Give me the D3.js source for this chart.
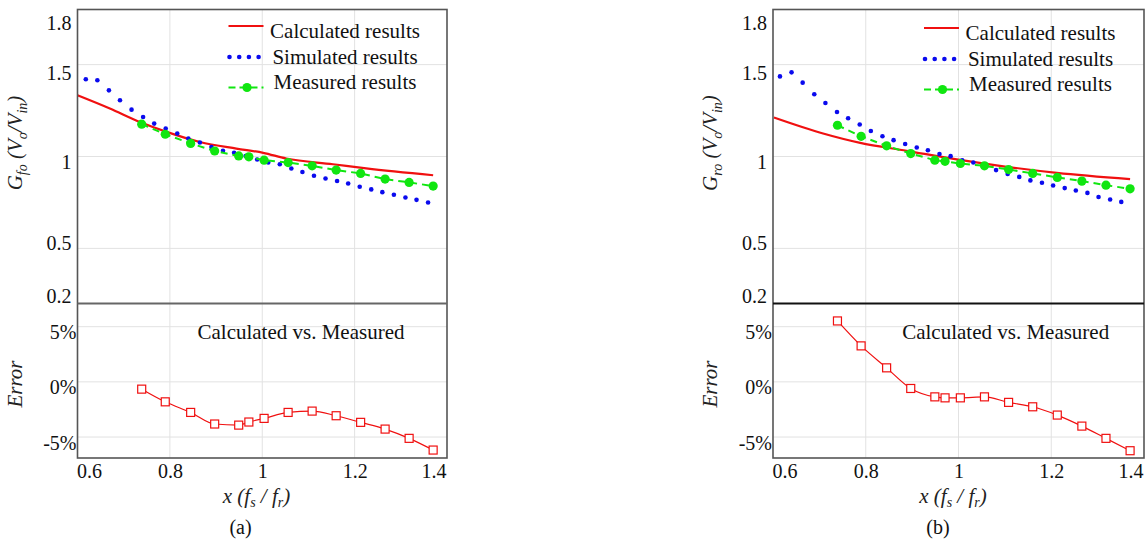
<!DOCTYPE html>
<html>
<head>
<meta charset="utf-8">
<script src="https://cdn.jsdelivr.net/npm/d3@7"></script>
<style>
	body { margin: 0; background: #fff; }
	svg { display: block; font-family: "Liberation Serif", "Times New Roman", serif; }
</style>
</head>
<body>
<svg id="chart" width="1145" height="540"></svg>
<script>
// axis ticks
var xTicks = [0.6, 0.8, 1, 1.2, 1.4];
var gainTicks = [0.2, 0.5, 1, 1.5, 1.8];
var errTicks = [-5, 0, 5];

// measured frequencies (shared by both panels)
var measX = [0.739, 0.790, 0.845, 0.897, 0.949, 0.971, 1.004, 1.056, 1.108, 1.160, 1.213, 1.266, 1.318, 1.370];

// (a) forward gain
var calcXA = [0.600, 0.670, 0.735, 0.793, 0.865, 0.944, 1.002, 1.052, 1.153, 1.225, 1.370];
var calcA = [1.333, 1.261, 1.188, 1.134, 1.079, 1.043, 1.020, 0.989, 0.958, 0.935, 0.898];
var simXA = [0.618, 0.643, 0.668, 0.692, 0.717, 0.742, 0.766, 0.791, 0.816, 0.840, 0.865, 0.890, 0.915, 0.939, 0.964, 0.989,
	1.013, 1.038, 1.063, 1.087, 1.112, 1.137, 1.162, 1.186, 1.211, 1.236, 1.260, 1.285, 1.310, 1.334, 1.359];
var simA = [1.420, 1.415, 1.360, 1.306, 1.255, 1.215, 1.179, 1.152, 1.125, 1.098, 1.076, 1.052, 1.031, 1.020, 1.003, 0.984,
	0.967, 0.958, 0.935, 0.916, 0.895, 0.880, 0.867, 0.853, 0.835, 0.821, 0.806, 0.792, 0.777, 0.764, 0.750];
var measA = [1.176, 1.121, 1.071, 1.030, 1.003, 0.998, 0.980, 0.967, 0.949, 0.926, 0.908, 0.877, 0.859, 0.839];
var errA = [-0.66, -1.81, -2.77, -3.82, -3.92, -3.64, -3.31, -2.77, -2.65, -3.07, -3.67, -4.28, -5.12, -6.18];

// (b) reverse gain
var calcXB = [0.602, 0.708, 0.788, 0.888, 0.996, 1.104, 1.212, 1.370];
var calcB = [1.212, 1.125, 1.074, 1.031, 0.984, 0.944, 0.911, 0.877];
var simXB = [0.615, 0.640, 0.664, 0.689, 0.713, 0.738, 0.762, 0.787, 0.811, 0.836, 0.860, 0.885, 0.910, 0.934, 0.959, 0.983,
	1.008, 1.032, 1.057, 1.081, 1.106, 1.131, 1.155, 1.180, 1.204, 1.229, 1.253, 1.278, 1.302, 1.327, 1.351];
var simB = [1.436, 1.458, 1.402, 1.339, 1.291, 1.242, 1.208, 1.174, 1.139, 1.110, 1.089, 1.068, 1.049, 1.034, 1.014, 1.002,
	0.980, 0.967, 0.949, 0.926, 0.905, 0.889, 0.870, 0.857, 0.842, 0.828, 0.815, 0.802, 0.780, 0.766, 0.753];
var measB = [1.170, 1.110, 1.058, 1.016, 0.980, 0.974, 0.962, 0.949, 0.929, 0.908, 0.886, 0.866, 0.844, 0.824];
var errB = [5.52, 3.26, 1.27, -0.60, -1.36, -1.45, -1.45, -1.36, -1.86, -2.26, -3.01, -4.01, -5.12, -6.24];

var svg = d3.select("#chart");

var top0 = 9.5, mid = 303.5, bot = 458;
var red = "#f01010", blue = "#0a0aee", green = "#10e610";
var serif = "'Liberation Serif', 'Times New Roman', serif";

function zip(xs, ys) {
	return xs.map(function(x, i) { return [x, ys[i]]; });
}

function styleAxis(a) {
	a.attr("font-family", serif).attr("font-size", 20);
	a.selectAll(".tick text").style("font-family", serif).style("font-size", "20px").attr("fill", "#111");
	a.select(".domain").remove();
}

function panel(o) {
	var g = svg.append("g");
	var x = d3.scaleLinear().domain([0.6, 1.4]).range([o.x0, o.x1]);
	var y = d3.scaleLinear().domain([0.2, 1.8]).range([mid, top0]);
	var ye = d3.scaleLinear().domain([-6.9, 7.1]).range([bot, mid]);

	// grid
	g.selectAll("line.vg").data([0.8, 1, 1.2]).enter().append("line")
		.attr("x1", function(d) { return x(d); }).attr("x2", function(d) { return x(d); })
		.attr("y1", top0).attr("y2", bot)
		.attr("stroke", "#e2e2e2").attr("stroke-width", 1);
	g.selectAll("line.hg").data([0.5, 1, 1.5]).enter().append("line")
		.attr("x1", o.x0).attr("x2", o.x1)
		.attr("y1", function(d) { return y(d); }).attr("y2", function(d) { return y(d); })
		.attr("stroke", "#e2e2e2");
	g.selectAll("line.eg").data(errTicks).enter().append("line")
		.attr("x1", o.x0).attr("x2", o.x1)
		.attr("y1", function(d) { return ye(d); }).attr("y2", function(d) { return ye(d); })
		.attr("stroke", "#e2e2e2");

	// axes
	var gainShift = {0.2: -7, 0.5: -5, 1: 6, 1.5: 9, 1.8: 14};
	var ay = g.append("g").attr("transform", "translate(" + o.x0 + ",0)")
		.call(d3.axisLeft(y).tickValues(gainTicks).tickSize(0).tickPadding(6).tickFormat(function(d) { return d; }));
	styleAxis(ay);
	ay.selectAll(".tick text").attr("dy", function(d) { return (gainShift[d] + 6) + "px"; });
	var ae = g.append("g").attr("transform", "translate(" + o.x0 + ",0)")
		.call(d3.axisLeft(ye).tickValues(errTicks).tickSize(0).tickPadding(1).tickFormat(function(d) { return d + "%"; }));
	styleAxis(ae);
	ae.selectAll(".tick text").attr("dy", "12px");
	var ax = g.append("g").attr("transform", "translate(0," + bot + ")")
		.call(d3.axisBottom(x).tickValues(xTicks).tickSize(0).tickPadding(6).tickFormat(function(d) { return d; }));
	styleAxis(ax);
	ax.selectAll(".tick text").attr("text-anchor", function(d, i) {
		return i === 0 ? "start" : (i === xTicks.length - 1 ? "end" : "middle");
	}).attr("dx", function(d, i) { return i === 0 ? "-1px" : (i === xTicks.length - 1 ? "-1px" : 0); });

	// calculated
	var line = d3.line().x(function(d) { return x(d[0]); }).y(function(d) { return y(d[1]); }).curve(d3.curveMonotoneX);
	g.append("path").datum(zip(o.calcX, o.calc))
		.attr("d", line).attr("fill", "none").attr("stroke", red).attr("stroke-width", 2.2);

	// simulated
	g.selectAll("circle.sim").data(zip(o.simX, o.sim)).enter().append("circle")
		.attr("cx", function(d) { return x(d[0]); }).attr("cy", function(d) { return y(d[1]); })
		.attr("r", 2.3).attr("fill", blue);

	// measured
	var meas = zip(measX, o.meas);
	g.append("path").datum(meas)
		.attr("d", d3.line().x(function(d) { return x(d[0]); }).y(function(d) { return y(d[1]); }))
		.attr("fill", "none").attr("stroke", green).attr("stroke-width", 2).attr("stroke-dasharray", "7,5");
	g.selectAll("circle.meas").data(meas).enter().append("circle")
		.attr("cx", function(d) { return x(d[0]); }).attr("cy", function(d) { return y(d[1]); })
		.attr("r", 4.6).attr("fill", green);

	// error
	var err = zip(measX, o.err);
	g.append("path").datum(err)
		.attr("d", d3.line().x(function(d) { return x(d[0]); }).y(function(d) { return ye(d[1]); }).curve(d3.curveMonotoneX))
		.attr("fill", "none").attr("stroke", red).attr("stroke-width", 1.2);
	g.selectAll("rect.err").data(err).enter().append("rect")
		.attr("x", function(d) { return x(d[0]) - 4; }).attr("y", function(d) { return ye(d[1]) - 4; })
		.attr("width", 8).attr("height", 8)
		.attr("fill", "#fff").attr("stroke", red).attr("stroke-width", 1.2);

	// frame
	g.append("rect").attr("x", o.x0).attr("y", top0).attr("width", o.x1 - o.x0).attr("height", bot - top0)
		.attr("fill", "none").attr("stroke", "#555").attr("stroke-width", 1.6);
	g.append("line").attr("x1", o.x0).attr("x2", o.x1).attr("y1", mid).attr("y2", mid)
		.attr("stroke", o.divider).attr("stroke-width", 2.2);

	// legend
	var lx = o.x0 + 151, ly = o.ly;
	g.append("line").attr("x1", lx).attr("x2", lx + 35).attr("y1", ly).attr("y2", ly)
		.attr("stroke", red).attr("stroke-width", 2);
	[0, 10, 20, 30].forEach(function(d) {
		g.append("circle").attr("cx", lx + 1 + d * 0.97).attr("cy", ly + 31).attr("r", 2.3).attr("fill", blue);
	});
	g.append("line").attr("x1", lx).attr("x2", lx + 35).attr("y1", ly + 61.5).attr("y2", ly + 61.5)
		.attr("stroke", green).attr("stroke-width", 2).attr("stroke-dasharray", "7,4");
	g.append("circle").attr("cx", lx + 18.5).attr("cy", ly + 61.5).attr("r", 4.6).attr("fill", green);
	var names = ["Calculated results", "Simulated results", "Measured results"];
	g.selectAll("text.leg").data(names).enter().append("text")
		.attr("x", o.x0 + 267.5).attr("y", function(d, i) { return ly + 12 + i * 25.7; })
		.attr("text-anchor", "middle").attr("font-size", 21).attr("fill", "#111")
		.text(function(d) { return d; });

	g.append("text").attr("x", o.x0 + o.cvx).attr("y", 338.5)
		.attr("text-anchor", "middle").attr("font-size", 21).attr("fill", "#111")
		.text("Calculated vs. Measured");

	// axis titles
	var yl = g.append("text").attr("transform", "translate(" + (o.x0 - 56) + ",143) rotate(-90)")
		.attr("text-anchor", "middle").attr("font-size", 21).attr("font-style", "italic").attr("fill", "#222");
	yl.append("tspan").text("G");
	yl.append("tspan").attr("dy", 5).attr("font-size", 14).text(o.sub);
	yl.append("tspan").attr("dy", -5).text(" (V");
	yl.append("tspan").attr("dy", 5).attr("font-size", 14).text("o");
	yl.append("tspan").attr("dy", -5).text("/V");
	yl.append("tspan").attr("dy", 5).attr("font-size", 14).text("in");
	yl.append("tspan").attr("dy", -5).text(")");

	g.append("text").attr("transform", "translate(" + (o.x0 - 56) + ",384) rotate(-90)")
		.attr("text-anchor", "middle").attr("font-size", 21).attr("font-style", "italic").attr("fill", "#222")
		.text("Error");

	var xl = g.append("text").attr("x", o.x0 + o.xtx).attr("y", 503)
		.attr("text-anchor", "middle").attr("font-size", 21).attr("font-style", "italic").attr("fill", "#222");
	xl.append("tspan").text("x (f");
	xl.append("tspan").attr("dy", 4).attr("font-size", 14).text("s");
	xl.append("tspan").attr("dy", -4).text(" / f");
	xl.append("tspan").attr("dy", 4).attr("font-size", 14).text("r");
	xl.append("tspan").attr("dy", -4).text(")");

	g.append("text").attr("x", o.x0 + o.capx).attr("y", 534)
		.attr("text-anchor", "middle").attr("font-size", 20).attr("fill", "#111")
		.text(o.cap);
}

panel({x0: 77.5, x1: 447, calcX: calcXA, calc: calcA, simX: simXA, sim: simA, meas: measA, err: errA,
	divider: "#666", ly: 26, cvx: 223.5, xtx: 179, capx: 163, sub: "fo", cap: "(a)"});
panel({x0: 773, x1: 1144, calcX: calcXB, calc: calcB, simX: simXB, sim: simB, meas: measB, err: errB,
	divider: "#111", ly: 28, cvx: 232.7, xtx: 180, capx: 165, sub: "ro", cap: "(b)"});
</script>
</body>
</html>
